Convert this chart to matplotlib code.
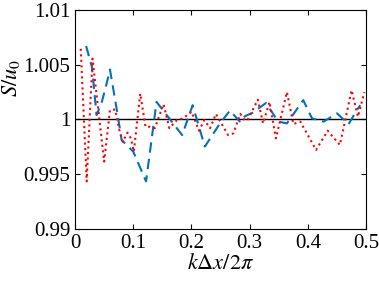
import matplotlib
matplotlib.use("Agg")
import matplotlib.pyplot as plt

plt.rcParams['font.family'] = ['Liberation Serif', 'DejaVu Serif']
plt.rcParams['mathtext.fontset'] = 'stix'

# Red dotted series
red_x = [0.0098, 0.020, 0.030, 0.050, 0.060, 0.069, 0.076, 0.082, 0.090, 0.096,
         0.101, 0.112, 0.121, 0.129, 0.137, 0.152, 0.162, 0.175, 0.186, 0.200,
         0.213, 0.222, 0.232, 0.242, 0.263, 0.272, 0.284, 0.292, 0.297, 0.314,
         0.323, 0.334, 0.345, 0.364, 0.375, 0.387, 0.414, 0.434, 0.455, 0.475,
         0.486, 0.497]
red_y = [1.00645, 0.99434, 1.00555, 0.99615, 1.00085, 1.0009, 0.99903, 0.99797, 0.99879, 0.99827,
         0.99706, 1.00236, 0.99933, 0.99933, 0.9992, 1.00139, 0.9992, 0.99994, 1.0001, 1.0007,
         0.99897, 0.99994, 0.9992, 1.0005, 0.99857, 0.99873, 1.0005, 0.99988, 1.0, 1.0018,
         0.99964, 1.0016, 0.99827, 1.0025, 0.99957, 0.9998, 0.99721, 0.99897, 0.99767, 1.00267,
         1.00025, 1.0025]

# Blue dashed series
blue_x = [0.019, 0.029, 0.037, 0.046, 0.053, 0.060, 0.072, 0.080, 0.100, 0.122,
          0.140, 0.184, 0.202, 0.223, 0.249, 0.266, 0.284, 0.292, 0.309, 0.315,
          0.328, 0.349, 0.364, 0.392, 0.407, 0.427, 0.450, 0.470, 0.484, 0.490]
blue_y = [1.0067, 1.0048, 1.0004, 1.0016, 1.0030, 1.00455, 1.0008, 0.99812, 0.99706, 0.99434,
          1.0016, 0.99857, 1.0013, 0.99752, 0.99964, 1.0008, 0.99975, 1.0003, 1.0007, 1.0010,
          1.0015, 0.9998, 0.99964, 1.00176, 1.0001, 0.9998, 1.00055, 0.99957, 1.00085, 1.0013]

xticks = [0, 0.1, 0.2, 0.3, 0.4, 0.5]
xticklabels = ['0', '0.1', '0.2', '0.3', '0.4', '0.5']
yticks = [0.99, 0.995, 1.0, 1.005, 1.01]
yticklabels = ['0.99', '0.995', '1', '1.005', '1.01']

fig = plt.figure(figsize=(3.79, 2.84), dpi=100)
ax = fig.add_axes([0.198, 0.194, 0.768, 0.771])

ax.axhline(1.0, color='black', lw=1.0, zorder=1)
ax.plot(blue_x, blue_y, color='#0072BD', lw=1.5, dashes=(5, 3), zorder=2)
ax.plot(red_x, red_y, color='red', lw=1.5, linestyle=':', zorder=3)

ax.set_xlim(0, 0.5)
ax.set_ylim(0.99, 1.01)
ax.set_xticks(xticks)
ax.set_xticklabels(xticklabels)
ax.set_yticks(yticks)
ax.set_yticklabels(yticklabels)
ax.tick_params(direction='in', top=True, right=True, labelsize=15, length=3.5, width=0.8)
for s in ax.spines.values():
    s.set_linewidth(0.8)

ax.set_xlabel(r'$k\Delta x/2\pi$', fontsize=16, labelpad=1)
ax.set_ylabel(r'$S/u_0$', fontsize=16)
ax.yaxis.set_label_coords(-0.182, 0.69)

fig.savefig('out.png', dpi=100)
